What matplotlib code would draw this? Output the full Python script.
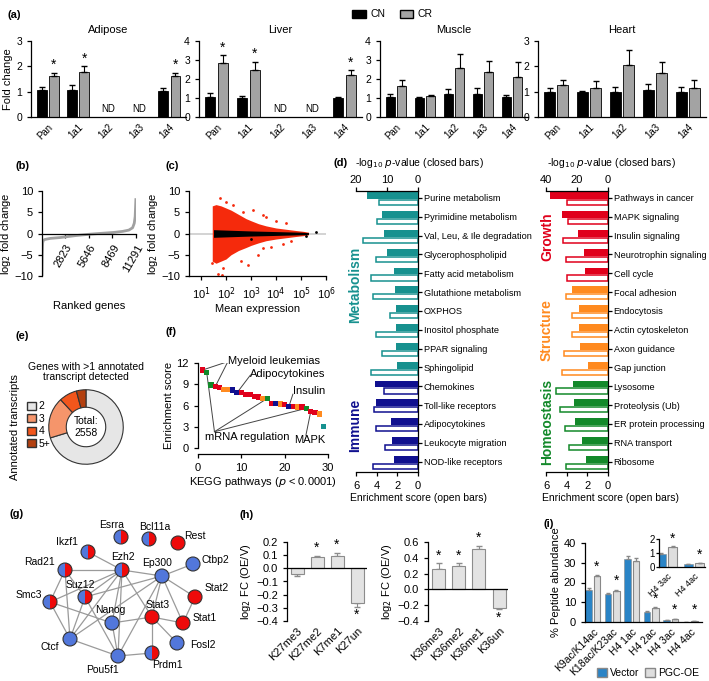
import numpy as np
import matplotlib
matplotlib.use("Agg")
import matplotlib.pyplot as plt
from matplotlib.patches import Patch, Circle, Wedge

plt.rcParams['font.family'] = ['Liberation Sans', 'DejaVu Sans']
plt.rcParams['font.size'] = 7.5
plt.rcParams['axes.linewidth'] = 0.9
plt.rcParams['xtick.major.width'] = 0.9
plt.rcParams['ytick.major.width'] = 0.9
plt.rcParams['xtick.major.size'] = 3
plt.rcParams['ytick.major.size'] = 3
plt.rcParams['axes.unicode_minus'] = True

# ---- (a) Sirt / Pgc1 isoforms, CN vs CR ----
genes = ["Pan", "1a1", "1a2", "1a3", "1a4"]
adipose_cn = [1.05, 1.08, np.nan, np.nan, 1.03]
adipose_cn_err = [0.15, 0.17, 0, 0, 0.13]
adipose_cr = [1.62, 1.77, np.nan, np.nan, 1.62]
adipose_cr_err = [0.13, 0.23, 0, 0, 0.13]
adipose_sig = [1, 1, 0, 0, 1]
liver_cn = [1.05, 1.0, np.nan, np.nan, 1.0]
liver_cn_err = [0.2, 0.1, 0, 0, 0.07]
liver_cr = [2.85, 2.45, np.nan, np.nan, 2.2]
liver_cr_err = [0.4, 0.47, 0, 0, 0.25]
liver_sig = [1, 1, 0, 0, 1]
muscle_cn = [1.05, 1.0, 1.2, 1.22, 1.03]
muscle_cn_err = [0.17, 0.07, 0.28, 0.3, 0.13]
muscle_cr = [1.65, 1.1, 2.6, 2.35, 2.13]
muscle_cr_err = [0.3, 0.08, 0.7, 0.62, 0.75]
muscle_sig = [0, 0, 0, 0, 0]
heart_cn = [1.0, 0.97, 1.0, 1.07, 1.0]
heart_cn_err = [0.15, 0.06, 0.2, 0.25, 0.2]
heart_cr = [1.25, 1.13, 2.07, 1.75, 1.15]
heart_cr_err = [0.23, 0.28, 0.58, 0.43, 0.3]
heart_sig = [0, 0, 0, 0, 0]

# ---- (b) ranked log2 fold change ----
rank_pos = [0, 30, 80, 160, 360, 1000, 2185, 4000, 5830, 7200, 8620, 9700, 10440, 10890, 11090, 11200, 11291]
rank_lfc = [-10, -5, -2.2, -1.6, -1.4, -1.15, -0.95, -0.5, -0.15, 0.05, 0.25, 0.5, 0.8, 1.35, 2.4, 4, 8.3]
rank_ticks = [2823, 5646, 8469, 11291]

# ---- (c) MA plot, outline of the point clouds ----
ma_logx = [1.45, 1.6, 1.8, 2.0, 2.2, 2.5, 2.8, 3.0, 3.3, 3.6, 4.0, 4.4, 4.8, 5.1, 5.3]
ma_red_hi = [6.5, 6.8, 6.5, 6.0, 5.5, 4.5, 3.5, 3.0, 2.3, 1.8, 1.3, 1.0, 0.7, 0.5, 0.3]
ma_red_lo = [-6.5, -7.0, -6.5, -6.0, -5.0, -4.0, -3.3, -2.8, -2.2, -1.7, -1.3, -1.0, -0.7, -0.5, -0.3]
ma_blk_x = [1.5, 2.0, 3.0, 4.0, 5.0, 5.3]
ma_blk_hw = [0.9, 0.8, 0.6, 0.45, 0.3, 0.2]
red_out_x = [1.45, 1.7, 1.85, 1.9, 1.75, 2.0, 2.3, 2.6, 2.9, 2.7, 3.1, 3.3, 3.5, 3.6, 3.5, 3.8, 4.0, 4.3, 4.4, 4.6]
red_out_y = [-7, -9.5, -9.8, -8, 8.3, 7.5, 6.8, -6.5, -7.5, 5, 5.5, -5, 4.3, 4.0, -3.5, -3.2, 3, -2.5, 2.5, -1.8]
blk_out_x = [5.6, 5.2, 3.0]
blk_out_y = [0.3, -0.6, -1.3]

# ---- (d) KEGG pathways ----
met_names = ["Purine metabolism", "Pyrimidine metabolism", "Val, Leu, & Ile degradation",
             "Glycerophospholipid", "Fatty acid metabolism", "Glutathione metabolism", "OXPHOS",
             "Inositol phosphate", "PPAR signaling", "Sphingolipid", "Chemokines",
             "Toll-like receptors", "Adipocytokines", "Leukocyte migration", "NOD-like receptors"]
met_logp = [16.5, 11.6, 11.0, 9.9, 7.9, 7.5, 7.2, 7.2, 7.2, 6.7, 14.0, 13.5, 8.6, 8.4, 7.9]
met_enrich = [3.75, 4.0, 5.35, 4.07, 4.58, 4.33, 2.7, 4.07, 3.45, 4.55, 3.3, 4.25, 4.1, 3.2, 4.33]
met_group = ["Metabolism"] * 10 + ["Immune"] * 5
grw_names = ["Pathways in cancer", "MAPK signaling", "Insulin signaling", "Neurotrophin signaling",
             "Cell cycle", "Focal adhesion", "Endocytosis", "Actin cytoskeleton", "Axon guidance",
             "Gap junction", "Lysosome", "Proteolysis (Ub)", "ER protein processing",
             "RNA transport", "Ribosome"]
grw_logp = [37.4, 29.7, 19.2, 15.7, 14.6, 23.4, 18.8, 18.8, 17.9, 13.1, 22.7, 22.1, 21.2, 16.8, 14.4]
grw_enrich = [4.0, 3.9, 4.4, 4.07, 4.0, 4.07, 3.5, 3.5, 4.3, 4.5, 5.03, 4.65, 4.16, 3.77, 4.1]
grw_group = ["Growth"] * 5 + ["Structure"] * 5 + ["Homeostasis"] * 5
group_color = {"Metabolism": "#17918f", "Immune": "#10108f", "Growth": "#e0001b",
               "Structure": "#ff8a1f", "Homeostasis": "#13892a"}

# ---- (e) transcripts per gene ----
tx_labels = ["2", "3", "4", "5+"]
tx_counts = [1798, 455, 199, 106]

# ---- (f) KEGG enrichment scores ----
kegg_rank = list(range(1, 30))
kegg_score = [11.0, 10.7, 8.9, 8.7, 8.5, 8.3, 8.3, 8.2, 7.8, 7.8, 7.6, 7.5, 7.3, 7.2, 7.0, 7.0,
              6.3, 6.3, 6.2, 6.1, 5.9, 5.9, 5.8, 5.8, 5.6, 5.1, 5.0, 4.8, 3.0]
kegg_group = ["G", "H", "H", "G", "G", "S", "S", "I", "I", "G", "G", "G", "G", "G", "S", "H",
              "G", "I", "S", "G", "I", "G", "S", "G", "H", "G", "G", "S", "M"]

# ---- (g) network ----
node_names = ["Esrra", "Bcl11a", "Rest", "Ikzf1", "Ezh2", "Ep300", "Ctbp2", "Rad21", "Suz12",
              "Smc3", "Stat2", "Nanog", "Stat3", "Stat1", "Ctcf", "Fosl2", "Prdm1", "Pou5f1"]
node_type = ["half", "half", "red", "half", "half", "blue", "blue", "half", "half",
             "half", "red", "blue", "red", "red", "blue", "blue", "half", "blue"]
edges = [("Ikzf1", "Ezh2"), ("Rad21", "Ezh2"), ("Rad21", "Smc3"), ("Rad21", "Ctcf"),
         ("Rad21", "Suz12"), ("Ezh2", "Suz12"), ("Ezh2", "Smc3"), ("Ezh2", "Ctcf"),
         ("Ezh2", "Nanog"), ("Ezh2", "Pou5f1"), ("Ezh2", "Ep300"), ("Ezh2", "Stat3"),
         ("Ep300", "Ctbp2"), ("Ep300", "Suz12"), ("Ep300", "Stat3"), ("Ep300", "Stat1"),
         ("Ep300", "Pou5f1"), ("Ep300", "Ctcf"), ("Ep300", "Stat2"), ("Stat3", "Stat1"),
         ("Stat2", "Stat1"), ("Stat3", "Nanog"), ("Stat3", "Prdm1"), ("Stat3", "Fosl2"),
         ("Smc3", "Ctcf"), ("Smc3", "Nanog"), ("Ctcf", "Pou5f1"), ("Ctcf", "Suz12"),
         ("Pou5f1", "Prdm1"), ("Pou5f1", "Nanog"), ("Pou5f1", "Suz12")]

# ---- (h) histone H3 methylation ----
k27_labels = ["K27me3", "K27me2", "K7me1", "K27un"]
k27_fc = [-0.04, 0.085, 0.09, -0.26]
k27_err = [0.02, 0.01, 0.03, 0.03]
k27_sig = [0, 1, 1, 1]
k36_labels = ["K36me3", "K36me2", "K36me1", "K36un"]
k36_fc = [0.26, 0.3, 0.51, -0.24]
k36_err = [0.07, 0.03, 0.04, 0.01]
k36_sig = [1, 1, 1, 1]

# ---- (i) acetylation ----
ac_labels = ["K9ac/K14ac", "K18ac/K23ac", "H4 1ac", "H4 2ac", "H4 3ac", "H4 4ac"]
ac_vec = [16.3, 14.2, 32.0, 5.2, 0.95, 0.18]
ac_vec_err = [1.0, 0.3, 1.5, 0.4, 0.08, 0.02]
ac_pgc = [23.2, 15.8, 30.7, 7.0, 1.4, 0.27]
ac_pgc_err = [0.5, 0.5, 1.5, 0.5, 0.08, 0.03]
ac_sig = [1, 1, 0, 1, 1, 1]

W, H = 709, 681
fig = plt.figure(figsize=(W / 100, H / 100), dpi=100)


def add_ax(l, t, r, b):
    return fig.add_axes([l / W, 1 - b / H, (r - l) / W, (b - t) / H])


def ftext(x, y, s, **kw):
    fig.text(x / W, 1 - y / H, s, **kw)


def clean(ax):
    ax.spines[['top', 'right']].set_visible(False)


# panel letters
for lab, x, y in [("(a)", 8, 15), ("(b)", 16, 166), ("(c)", 166, 166), ("(d)", 333, 163),
                  ("(e)", 16, 336), ("(f)", 166, 332), ("(g)", 10, 514), ("(h)", 240, 515),
                  ("(i)", 543, 524)]:
    ftext(x, y, lab, fontsize=8, fontweight='bold', va='center')

# ---------------- (a) ----------------
cn_col, cr_col = "black", "#a3a3a3"
tissue_sets = [("Adipose", 31, 186, adipose_cn, adipose_cn_err, adipose_cr, adipose_cr_err, adipose_sig, 3),
               ("Liver", 199, 362, liver_cn, liver_cn_err, liver_cr, liver_cr_err, liver_sig, 4),
               ("Muscle", 380, 528, muscle_cn, muscle_cn_err, muscle_cr, muscle_cr_err, muscle_sig, 4),
               ("Heart", 538, 706, heart_cn, heart_cn_err, heart_cr, heart_cr_err, heart_sig, 3)]
for k, (name, l, r, cn, cne, cr, cre, sig, ymax) in enumerate(tissue_sets):
    ax = add_ax(l, 41, r, 117)
    x = np.arange(len(genes))
    ax.bar(x - 0.2, cn, 0.32, color=cn_col, edgecolor='black', linewidth=0.6)
    ax.bar(x + 0.2, cr, 0.32, color=cr_col, edgecolor='black', linewidth=0.6)
    ax.errorbar(x - 0.2, cn, yerr=[np.zeros(5), cne], fmt='none', ecolor='black', elinewidth=0.8, capsize=2)
    ax.errorbar(x + 0.2, cr, yerr=[np.zeros(5), cre], fmt='none', ecolor='black', elinewidth=0.8, capsize=2)
    for i in range(5):
        if np.isnan(cn[i]):
            ax.text(i, ymax * 0.04, "ND", ha='center', va='bottom', fontsize=7)
        elif sig[i]:
            ax.text(i + 0.2, cr[i] + cre[i] + ymax * 0.01, "*", ha='center', va='bottom', fontsize=10)
    ax.set_xlim(-0.55, 4.55)
    ax.set_ylim(0, ymax)
    ax.set_yticks(range(ymax + 1))
    ax.set_xticks(x)
    ax.set_xticklabels(genes, rotation=45, ha='right', rotation_mode='anchor', fontsize=7)
    ax.tick_params(axis='x', length=0)
    clean(ax)
    ax.set_title(name, fontsize=8, pad=6)
    if k == 0:
        ax.set_ylabel("Fold change", fontsize=8, labelpad=2)
fig.legend([Patch(facecolor=cn_col, edgecolor='black'), Patch(facecolor=cr_col, edgecolor='black')],
           ["CN", "CR"], loc='upper left', bbox_to_anchor=(343 / W, 1 - 0 / H), ncol=2, frameon=False,
           fontsize=7.5, handlelength=1.3, handleheight=0.8, columnspacing=1.4, handletextpad=0.4)

# ---------------- (b) ----------------
ax = add_ax(42, 191, 136, 276)
ax.plot(rank_pos, rank_lfc, color='#a0a0a0', lw=2, solid_capstyle='butt')
ax.set_xlim(0, 11300)
ax.set_ylim(-10, 10)
ax.set_yticks([-10, -5, 0, 5, 10])
ax.set_yticklabels(["\u221210", "\u22125", "0", "5", "10"], fontsize=8)
ax.spines['bottom'].set_position(('data', 0))
ax.set_xticks(rank_ticks)
ax.set_xticklabels([str(v) for v in rank_ticks], rotation=60, ha='right', rotation_mode='anchor', fontsize=8)
clean(ax)
ax.set_ylabel("log$_2$ fold change", fontsize=8, labelpad=1)
ftext(89, 306, "Ranked genes", fontsize=8, ha='center', va='center')

# ---------------- (c) ----------------
ax = add_ax(189, 191, 326, 276)
ax.set_xscale('log')
ax.axhline(0, color='#cccccc', lw=1.2, zorder=0)
mx = 10 ** np.array(ma_logx)
ax.fill_between(mx, ma_red_lo, ma_red_hi, color='#f52a0c', lw=0, zorder=1)
ax.scatter(10 ** np.array(red_out_x), red_out_y, s=4, color='#f52a0c', lw=0, zorder=1)
bx = 10 ** np.array(ma_blk_x)
ax.fill_between(bx, -np.array(ma_blk_hw), ma_blk_hw, color='black', lw=0, zorder=2)
ax.scatter(10 ** np.array(blk_out_x), blk_out_y, s=4, color='black', lw=0, zorder=2)
ax.set_xlim(10 ** 0.52, 10 ** 6)
ax.set_ylim(-10, 10)
ax.set_yticks([-10, -5, 0, 5, 10])
ax.set_yticklabels(["\u221210", "\u22125", "0", "5", "10"], fontsize=8)
ax.set_xticks([10 ** k for k in range(1, 7)])
ax.set_xticklabels(["10$^{%d}$" % k for k in range(1, 7)], fontsize=8)
ax.minorticks_off()
clean(ax)
ax.set_ylabel("log$_2$ fold change", fontsize=8, labelpad=1)
ax.set_xlabel("Mean expression", fontsize=8, labelpad=2)

# ---------------- (d) ----------------
def path_panel(l, r, names, logp, enrich, groups, top_max, top_ticks):
    ax = add_ax(l, 191, r, 472)
    y = np.arange(len(names))
    cols = [group_color[g] for g in groups]
    ax.barh(y + 0.25, enrich, height=0.27, color='white', edgecolor=cols, linewidth=1.1)
    ax.set_xlim(6, 0)
    ax.yaxis.tick_right()
    ax.set_yticks(y)
    ax.set_yticklabels(names, fontsize=6.6)
    ax.tick_params(axis='y', pad=1, length=3)
    ax.spines[['left', 'top']].set_visible(False)
    ax.set_xticks([6, 4, 2, 0])
    ax.tick_params(axis='x', labelsize=8)
    at = ax.twiny()
    at.barh(y - 0.12, logp, height=0.36, color=cols)
    at.set_xlim(top_max, 0)
    at.set_xticks(top_ticks)
    at.tick_params(axis='x', labelsize=8, pad=1)
    at.spines[['left', 'bottom', 'right']].set_visible(False)
    ax.set_ylim(14.55, -0.37)
    return ax


path_panel(356, 418, met_names, met_logp, met_enrich, met_group, 20, [20, 10, 0])
path_panel(546, 608, grw_names, grw_logp, grw_enrich, grw_group, 40, [40, 20, 0])
for xc in (419, 611):
    ftext(xc, 163, "-log$_{10}$ $p$-value (closed bars)", fontsize=7.5, ha='center', va='center')
    ftext(xc, 498, "Enrichment score (open bars)", fontsize=7.5, ha='center', va='center')
for g, x, y in [("Metabolism", 355, 285), ("Immune", 355, 425), ("Growth", 547, 237),
                ("Structure", 547, 330), ("Homeostasis", 547, 422)]:
    ftext(x, y, g, fontsize=10, fontweight='bold', color=group_color[g], rotation=90,
          ha='center', va='center')

# ---------------- (e) ----------------
ax = add_ax(48, 389, 124, 465)
tx_cols = ["#e6e6e6", "#f5956b", "#f2561c", "#b3400f"]
ax.pie(tx_counts, colors=tx_cols, startangle=90, counterclock=False,
       wedgeprops=dict(width=0.47, edgecolor='#333333', linewidth=0.8))
ax.set_xlim(-1.02, 1.02)
ax.set_ylim(-1.02, 1.02)
ax.set_aspect('equal')
ax.text(0, 0, "Total:\n%d" % sum(tx_counts), ha='center', va='center', fontsize=7.5)
ftext(86, 372, "Genes with >1 annotated\ntranscript detected", fontsize=7.5, ha='center', va='center',
      linespacing=1.1)
ftext(15, 427, "Annotated transcripts", fontsize=8, rotation=90, ha='center', va='center')
fig.legend([Patch(facecolor=c, edgecolor='#333333') for c in tx_cols], tx_labels, loc='upper left',
           bbox_to_anchor=(22 / W, 1 - 396 / H), frameon=False, fontsize=7.5, handlelength=0.8,
           handleheight=0.8, labelspacing=0.25, handletextpad=0.3, borderpad=0)

# ---------------- (f) ----------------
ax = add_ax(198, 363, 328, 448)
kcol = {"G": "#e0001b", "H": "#13892a", "S": "#ff8a1f", "I": "#10108f", "M": "#17918f"}
ax.scatter(kegg_rank, kegg_score, marker='s', s=14, c=[kcol[g] for g in kegg_group], lw=0, zorder=3)
ax.set_xlim(0, 30)
ax.set_ylim(0, 12)
ax.set_yticks([0, 3, 6, 9, 12])
ax.set_xticks([0, 10, 20, 30])
ax.tick_params(labelsize=8)
clean(ax)
ax.spines['bottom'].set_position(('outward', 4))
ax.set_ylabel("Enrichment score", fontsize=8, labelpad=2)
ax.set_xlabel("KEGG pathways ($p$ < 0.0001)", fontsize=8, labelpad=2)
lc = dict(color='#444444', lw=0.7, zorder=2)
sc = dict(fontsize=8, zorder=4)
ax.text(6.9, 12.3, "Myeloid leukemias", va='center', **sc)
for p in (1, 4):
    ax.plot([6.9, p], [12.2, kegg_score[p - 1]], **lc)
ax.text(12.1, 10.5, "Adipocytokines", va='center', **sc)
ax.plot([12.1, 9], [10.3, kegg_score[8]], **lc)
ax.text(22.0, 8.0, "Insulin", va='center', **sc)
ax.plot([21.9, 21], [7.6, kegg_score[20]], **lc)
ax.text(1.6, 1.5, "mRNA regulation", va='center', **sc)
for p in (2, 16, 25):
    ax.plot([3.8, p], [2.3, kegg_score[p - 1]], **lc)
ax.text(25.8, 1.1, "MAPK", ha='center', va='center', **sc)
ax.plot([24.9, 26], [1.8, kegg_score[25]], **lc)

# ---------------- (g) ----------------
ax = add_ax(0, 500, 240, 681)
ax.set_xlim(0, 240)
ax.set_ylim(681, 500)
ax.set_aspect('equal')
ax.axis('off')
node_xy = {"Esrra": (121, 537), "Bcl11a": (149, 539), "Rest": (178, 543), "Ikzf1": (88, 552),
           "Ezh2": (122, 570), "Ep300": (162, 576), "Ctbp2": (193, 564), "Rad21": (65, 570),
           "Suz12": (85, 597), "Smc3": (50, 602), "Stat2": (195, 597), "Nanog": (112, 623),
           "Stat3": (152, 617), "Stat1": (183, 623), "Ctcf": (70, 639), "Fosl2": (177, 643),
           "Prdm1": (152, 653), "Pou5f1": (118, 656)}
label_xy = {"Esrra": (112, 525), "Bcl11a": (155, 527), "Rest": (195, 536), "Ikzf1": (67, 542),
            "Ezh2": (123, 557), "Ep300": (157, 563), "Ctbp2": (215, 560), "Rad21": (40, 562),
            "Suz12": (80, 585), "Smc3": (29, 595), "Stat2": (217, 588), "Nanog": (110, 610),
            "Stat3": (158, 605), "Stat1": (205, 618), "Ctcf": (50, 647), "Fosl2": (203, 645),
            "Prdm1": (167, 665), "Pou5f1": (103, 670)}
for a, b in edges:
    (x1, y1), (x2, y2) = node_xy[a], node_xy[b]
    ax.plot([x1, x2], [y1, y2], color='#9a9a9a', lw=0.9, zorder=1)
blue, red = "#5277db", "#ee0a0a"
rad = 7
for n, t in zip(node_names, node_type):
    x, y = node_xy[n]
    if t == "half":
        ax.add_patch(Wedge((x, y), rad, 90, 270, facecolor=blue, edgecolor='none', zorder=2))
        ax.add_patch(Wedge((x, y), rad, -90, 90, facecolor=red, edgecolor='none', zorder=2))
        ax.add_patch(Circle((x, y), rad, facecolor='none', edgecolor='#333333', lw=0.8, zorder=3))
    else:
        ax.add_patch(Circle((x, y), rad, facecolor=blue if t == "blue" else red,
                            edgecolor='#333333', lw=0.8, zorder=3))
    lx, ly = label_xy[n]
    ax.text(lx, ly, n, ha='center', va='center', fontsize=7.5, zorder=4)

# ---------------- (h) ----------------
def h3_panel(l, r, labels, fc, err, sig, ylim, yticks, xlim):
    ax = add_ax(l, 542, r, 621)
    x = np.arange(len(labels))
    ax.bar(x, fc, 0.65, color='#e3e3e3', edgecolor='#8c8c8c', linewidth=0.8, zorder=2)
    lo = [e if v < 0 else 0 for v, e in zip(fc, err)]
    hi = [e if v >= 0 else 0 for v, e in zip(fc, err)]
    ax.errorbar(x, fc, yerr=[lo, hi], fmt='none', ecolor='#8c8c8c', elinewidth=0.8, capsize=2.5, zorder=1)
    ax.axhline(0, color='black', lw=0.9, zorder=3)
    span = ylim[1] - ylim[0]
    for i in range(len(labels)):
        if sig[i]:
            if fc[i] >= 0:
                ax.text(i, fc[i] + err[i] + span * 0.01, "*", ha='center', va='bottom', fontsize=10)
            else:
                ax.text(i, fc[i] - err[i] - span * 0.02, "*", ha='center', va='top', fontsize=10)
    ax.set_ylim(*ylim)
    ax.set_xlim(*xlim)
    ax.set_yticks(yticks)
    ax.set_yticklabels([("%.1f" % v).replace("-", "\u2212") for v in yticks], fontsize=8)
    ax.set_xticks(x)
    ax.set_xticklabels(labels, rotation=45, ha='right', rotation_mode='anchor', fontsize=8)
    ax.tick_params(axis='x', length=0)
    ax.spines[['top', 'right', 'bottom']].set_visible(False)
    ax.set_ylabel("log$_2$ FC (OE/V)", fontsize=8, labelpad=2)


h3_panel(287, 367, k27_labels, k27_fc, k27_err, k27_sig, (-0.4, 0.2),
         [0.2, 0.1, 0.0, -0.1, -0.2, -0.3, -0.4], (-0.5, 3.5))
h3_panel(428, 508, k36_labels, k36_fc, k36_err, k36_sig, (-0.4, 0.6),
         [0.6, 0.4, 0.2, 0.0, -0.2, -0.4], (-0.55, 3.45))

# ---------------- (i) ----------------
vec_col, pgc_col = "#2a84c6", "#dedede"


def ac_bars(ax, idx, ymax):
    x = np.arange(len(idx))
    v = [ac_vec[i] for i in idx]
    ve = [ac_vec_err[i] for i in idx]
    p = [ac_pgc[i] for i in idx]
    pe = [ac_pgc_err[i] for i in idx]
    ax.bar(x - 0.21, v, 0.33, color=vec_col, edgecolor='#888888', linewidth=0.4)
    ax.bar(x + 0.21, p, 0.33, color=pgc_col, edgecolor='#888888', linewidth=0.8)
    ax.errorbar(x - 0.21, v, yerr=[np.zeros(len(x)), ve], fmt='none', ecolor='#888888', elinewidth=0.8, capsize=1.5)
    ax.errorbar(x + 0.21, p, yerr=[np.zeros(len(x)), pe], fmt='none', ecolor='#888888', elinewidth=0.8, capsize=1.5)
    for j, i in enumerate(idx):
        if ac_sig[i]:
            ax.text(j + 0.21, max(p[j] + pe[j], ymax * 0.04) + ymax * 0.02, "*", ha='center',
                    va='bottom', fontsize=10)
    ax.set_xticks(x)
    ax.set_xticklabels([ac_labels[i] for i in idx], rotation=45, ha='right', rotation_mode='anchor',
                       fontsize=7.5)
    ax.tick_params(axis='x', length=0)
    clean(ax)


ax = add_ax(585, 543, 702, 622)
ac_bars(ax, range(6), 40)
ax.set_ylim(0, 40)
ax.set_xlim(-0.4, 5.6)
ax.set_yticks([0, 10, 20, 30, 40])
ax.tick_params(axis='y', labelsize=8)
ax.set_ylabel("% Peptide abundance", fontsize=8, labelpad=2)

ax = add_ax(659, 539, 705, 567)
ac_bars(ax, [4, 5], 2)
ax.set_ylim(0, 2)
ax.set_xlim(-0.3, 1.4)
ax.set_yticks([0, 1, 2])
ax.tick_params(axis='y', labelsize=7, length=2, pad=1)
for t in ax.get_xticklabels():
    t.set_fontsize(6.5)

fig.legend([Patch(facecolor=vec_col, edgecolor='#888888'), Patch(facecolor=pgc_col, edgecolor='#888888')],
           ["Vector", "PGC-OE"], loc='center left', bbox_to_anchor=(592 / W, 1 - 673 / H), ncol=2,
           frameon=False, fontsize=7.5, handlelength=0.9, handleheight=0.9, columnspacing=0.6,
           handletextpad=0.3, borderpad=0)

fig.savefig("out.png", dpi=100)
